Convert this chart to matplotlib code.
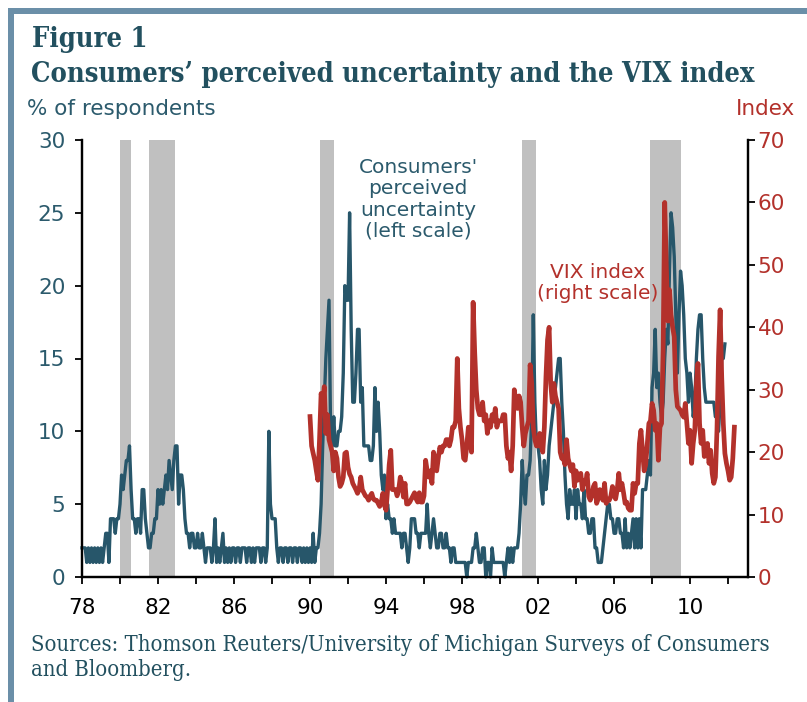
# Consumers' perceived uncertainty vs. the VIX index (monthly)

import numpy as np
import matplotlib
matplotlib.use('Agg')
from matplotlib import pyplot as plt
from matplotlib.patches import Rectangle

# --- data -------------------------------------------------------------
# % of respondents citing uncertainty, monthly from Jan 1978
uncert_start = 1978
uncertainty = [
    2, 2, 2, 1, 2, 1, 2, 1, 2, 1, 2, 1,          # 1978
    2, 1, 2, 3, 3, 1, 4, 4, 4, 3, 4, 4,          # 1979
    5, 7, 6, 7, 8, 8, 9, 6, 4, 4, 3, 4,          # 1980
    4, 3, 6, 6, 4, 3, 2, 2, 3, 3, 4, 4,          # 1981
    6, 5, 6, 5, 6, 7, 6, 8, 7, 6, 8, 9,          # 1982
    9, 5, 7, 7, 6, 4, 3, 3, 2, 3, 3, 2,          # 1983
    2, 3, 2, 2, 3, 2, 1, 2, 2, 2, 1, 2,          # 1984
    4, 1, 2, 1, 2, 3, 1, 2, 1, 2, 1, 2,          # 1985
    2, 1, 2, 2, 1, 2, 2, 2, 1, 2, 2, 1,          # 1986
    2, 1, 2, 2, 2, 1, 2, 2, 1, 2, 10, 5,         # 1987
    4, 4, 4, 2, 1, 2, 2, 1, 2, 2, 1, 2,          # 1988
    2, 1, 2, 2, 1, 2, 2, 1, 2, 1, 2, 1,          # 1989
    2, 1, 3, 1, 2, 2, 3, 5, 9, 12, 15, 17,       # 1990
    19, 10, 9, 11, 9, 9, 10, 10, 11, 14, 20, 19,  # 1991
    19, 25, 17, 12, 12, 14, 17, 17, 12, 13, 9, 9,  # 1992
    9, 9, 8, 8, 9, 13, 10, 12, 10, 7, 6, 7,      # 1993
    4, 5, 4, 4, 3, 4, 3, 3, 3, 3, 2, 3,          # 1994
    3, 2, 1, 2, 4, 4, 4, 3, 3, 2, 3, 3,          # 1995
    3, 3, 5, 3, 2, 3, 4, 3, 2, 2, 3, 3,          # 1996
    2, 2, 3, 2, 2, 1, 2, 2, 1, 1, 1, 1,          # 1997
    1, 1, 1, 0, 1, 1, 1, 2, 2, 3, 2, 1,          # 1998
    1, 2, 2, 0, 1, 1, 0, 2, 1, 1, 1, 1,          # 1999
    1, 1, 1, 0, 1, 2, 1, 2, 1, 2, 2, 2,          # 2000
    3, 5, 8, 6, 5, 7, 7, 8, 11, 18, 12, 9,       # 2001
    9, 8, 6, 5, 8, 6, 7, 9, 10, 11, 12, 13,      # 2002
    14, 15, 15, 12, 10, 7, 5, 4, 6, 5, 5, 6,     # 2003
    4, 6, 5, 5, 4, 6, 4, 4, 3, 3, 4, 4,          # 2004
    2, 2, 1, 1, 1, 2, 3, 4, 5, 5, 4, 4,          # 2005
    3, 3, 4, 4, 3, 3, 2, 4, 2, 3, 2, 3,          # 2006
    4, 2, 4, 2, 4, 2, 6, 6, 6, 7, 8, 7,          # 2007
    13, 14, 17, 13, 14, 12, 11, 12, 15, 17, 16, 21,  # 2008
    25, 24, 22, 18, 14, 18, 21, 20, 18, 15, 14, 12,  # 2009
    14, 13, 11, 12, 15, 17, 18, 18, 15, 13, 12, 12,  # 2010
    12, 12, 12, 12, 11, 11, 10, 12, 15, 15, 16,      # 2011 (to Nov)
]

# VIX index, monthly from Jan 1990
vix_start = 1990
vix = [
    25.7, 21, 19.8, 18.7, 17, 15.5, 22, 29.4, 28, 30.5, 23, 26,     # 1990
    22, 21, 20, 17, 20, 19, 16, 14.5, 15, 16, 19.8, 20,             # 1991
    17.6, 16.5, 16, 15, 14.5, 14, 13.4, 14, 16, 14, 13.5, 13,       # 1992
    12.8, 12.3, 13, 13.4, 12.5, 12.3, 12.3, 11.8, 11.3, 12, 13.4, 11.5,  # 1993
    10.7, 14, 18, 20.3, 14, 14, 14, 13, 14, 16, 15, 12.8,           # 1994
    15, 11.7, 11.7, 12, 12.5, 13, 13.5, 12.5, 12, 13.5, 12, 12,     # 1995
    13, 18.7, 17, 16, 17, 15, 20, 19, 17, 19, 20.8, 20,             # 1996
    21, 21, 22, 22, 21, 22, 24, 24, 25, 35, 27, 24,                 # 1997
    22, 19, 18.7, 21, 24, 22, 20, 44, 36, 30, 27, 26,               # 1998
    26, 28, 25, 26, 23, 25, 24, 26, 25, 27, 24, 25,                 # 1999
    25, 25, 26, 26, 21, 19, 20, 17, 21, 30, 28, 27,                 # 2000
    29, 28, 24, 21, 23, 24, 25, 34, 31, 24, 22, 21,                 # 2001
    21, 23, 21, 20, 24, 32, 38, 40, 31, 28, 31, 29,                 # 2002
    28, 27, 20, 19, 19, 18, 22, 19, 18, 17, 18, 14.5,               # 2003
    17, 15.5, 16, 16.6, 14, 15.5, 15, 16.6, 12.9, 12.3, 13, 14.5,   # 2004
    15, 11.8, 12.5, 14, 13, 12.3, 15, 11.8, 12.3, 12.3, 13, 14.5,   # 2005
    13, 12.5, 14, 16.6, 14, 15, 13.5, 11.8, 12, 11, 10.7, 10.7,     # 2006
    15, 13.4, 15, 15, 21.4, 23.5, 20.3, 17, 18, 21.4, 24.6, 25,     # 2007
    27.8, 26.7, 23.5, 24.6, 18.7, 24, 24.6, 36.4, 60, 50, 41, 46,   # 2008
    42, 40, 38.5, 30, 27.3, 27, 26.7, 26, 25.6, 27.8, 24.6, 21.4,   # 2009
    23.5, 18.2, 21.4, 23.5, 31, 34.2, 24.6, 21.4, 23.5, 19.3, 20, 21.4,  # 2010
    18.2, 20.3, 16.6, 15, 16, 23.5, 35.3, 42.8, 32, 24.6, 19.8, 18.2,    # 2011
    17, 15.5, 16, 19, 24,                                           # 2012 (to May)
]

# NBER recessions: (start year, start month, end year, end month)
recessions = [
    (1980, 1, 1980, 7),
    (1981, 7, 1982, 11),
    (1990, 7, 1991, 3),
    (2001, 3, 2001, 11),
    (2007, 12, 2009, 6),
]

left_ticks = [0, 5, 10, 15, 20, 25, 30]
right_ticks = [0, 10, 20, 30, 40, 50, 60, 70]
year_ticks = list(range(1978, 2013, 2))
year_labels = [f'{y % 100:02d}' if (y - 1978) % 4 == 0 else '' for y in year_ticks]

# --- style --------------------------------------------------------------
BLUE = '#27566a'
RED = '#b3312b'
TEAL = '#2b5a6c'
TITLE = '#22505f'
FRAME = '#6b8fa8'
SHADE = '#c0c0c0'

plt.rcParams['font.family'] = ['DejaVu Sans']

W, H = 807, 702
fig = plt.figure(figsize=(W / 100, H / 100), dpi=100)


def fx(px):
    return px / W


def fy(py):
    return 1 - py / H


# frame bands along the top and left edge
fig.add_artist(Rectangle((fx(8), fy(14)), 1 - fx(8), fy(8) - fy(14),
                         transform=fig.transFigure, color=FRAME, lw=0))
fig.add_artist(Rectangle((fx(8), 0), fx(14) - fx(8), fy(8),
                         transform=fig.transFigure, color=FRAME, lw=0))

ax = fig.add_axes([fx(82), fy(577), fx(748) - fx(82), fy(140) - fy(577)])
ax2 = ax.twinx()

for y0, m0, y1, m1 in recessions:
    ax.axvspan(y0 + (m0 - 1) / 12, y1 + m1 / 12, color=SHADE, lw=0, zorder=1)

t_unc = uncert_start + np.arange(len(uncertainty)) / 12
t_vix = vix_start + np.arange(len(vix)) / 12

ax.plot(t_unc, uncertainty, color=BLUE, lw=2.4, clip_on=False, zorder=3,
        solid_joinstyle='round')
ax2.plot(t_vix, vix, color=RED, lw=3.4, clip_on=False, zorder=3,
         solid_joinstyle='round')

ax.set_xlim(1978, 2013.05)
ax.set_ylim(0, 30)
ax2.set_ylim(0, 70)

for a in (ax, ax2):
    a.spines['top'].set_visible(False)
    for s in ('left', 'right', 'bottom'):
        a.spines[s].set_linewidth(1.6)
        a.spines[s].set_color('black')

ax.set_yticks(left_ticks)
ax.set_xticks(year_ticks)
ax.set_xticklabels(year_labels)
ax2.set_yticks(right_ticks)

ax.tick_params(axis='y', direction='out', length=5, width=1.3, pad=7,
               labelsize=15.5, labelcolor=TEAL)
ax.tick_params(axis='x', direction='out', length=5, width=1.3, pad=10,
               labelsize=15.5, labelcolor='black')
ax2.tick_params(axis='y', direction='out', length=5, width=1.3, pad=2,
                labelsize=15.5, labelcolor=RED)

# --- text ---------------------------------------------------------------
renderer = fig.canvas.get_renderer()


def fit_width(txt, target_px):
    w = txt.get_window_extent(renderer).width
    txt.set_fontsize(txt.get_fontsize() * target_px / w)


t1 = fig.text(fx(32), fy(47), 'Figure 1', family='DejaVu Serif',
              fontstretch='condensed', weight='bold', color=TITLE,
              va='baseline', size=17)
t2 = fig.text(fx(31), fy(82), 'Consumers\u2019 perceived uncertainty and the VIX index',
              family='DejaVu Serif', fontstretch='condensed', weight='bold',
              color=TITLE, va='baseline', size=17)
fit_width(t2, 725)
t1.set_fontsize(t2.get_fontsize())

fig.text(fx(27), fy(115), '% of respondents', color=TEAL, size=15.5, va='baseline')
fig.text(fx(795), fy(115), 'Index', color=RED, size=15.5, va='baseline', ha='right')

fig.text(fx(418), fy(158), "Consumers'\nperceived\nuncertainty\n(left scale)",
         ha='center', va='top', color=TEAL, size=14.5, linespacing=1.15)
fig.text(fx(598), fy(263), 'VIX index\n(right scale)',
         ha='center', va='top', color=RED, size=14.5, linespacing=1.15)

s1 = fig.text(fx(31), fy(651),
              'Sources: Thomson Reuters/University of Michigan Surveys of Consumers',
              family='DejaVu Serif', fontstretch='condensed', color=TITLE,
              va='baseline', size=15)
fit_width(s1, 735)
fig.text(fx(31), fy(676), 'and Bloomberg.', family='DejaVu Serif',
         fontstretch='condensed', color=TITLE, va='baseline',
         size=s1.get_fontsize())

fig.savefig('out.png', dpi=100)
